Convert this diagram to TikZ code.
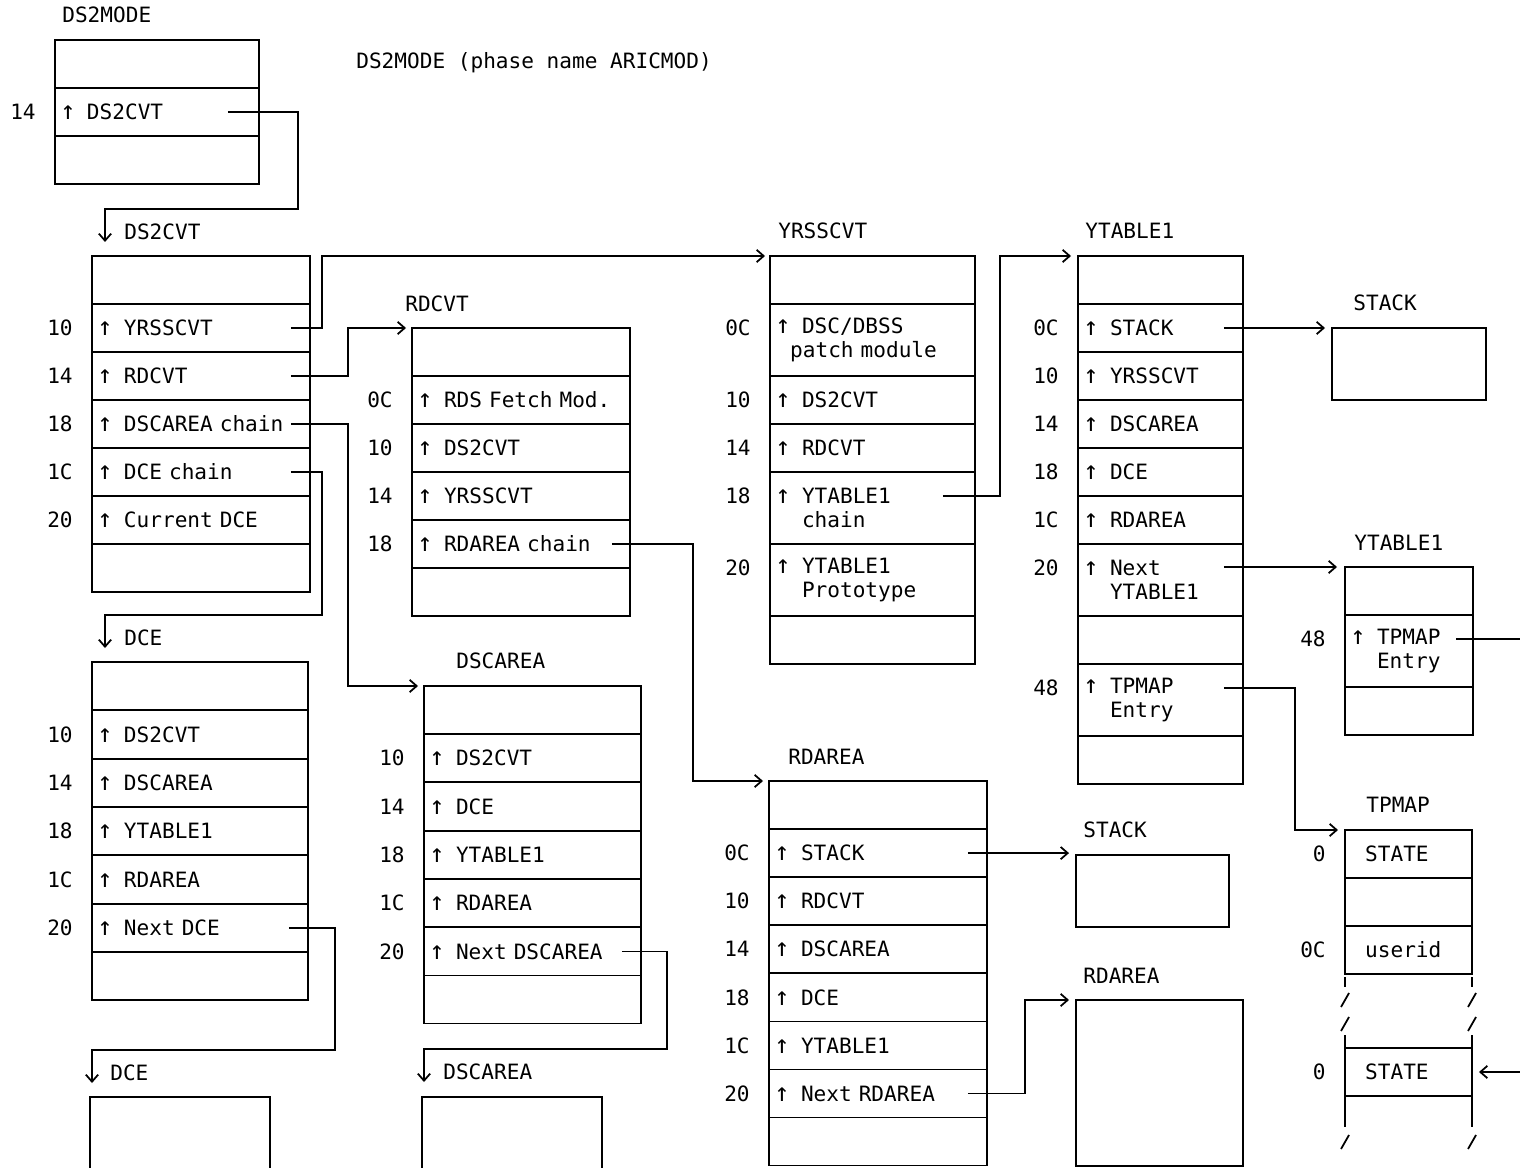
\documentclass[tikz,border=0pt]{standalone}
\usepackage{fontspec}
\newfontfamily\boxfont{DejaVu Sans Mono}
\usetikzlibrary{positioning,arrows.meta}
\newcommand{\tfont}{\boxfont\fontsize{12}{13.66}\selectfont}
\newcommand{\ptr}{\makebox[0.49cm][l]{\makebox[0.22cm]{\fontsize{14.5}{13.66}\selectfont↑}}}
\tikzset{
	cell/.style={draw,line width=1pt,outer sep=0pt,text width=#1,inner xsep=0.15cm,inner ysep=0pt,
		minimum height=0.96cm,align=left,font=\tfont},
	tall/.style={minimum height=1.44cm},
	bare/.style={draw,line width=1pt,outer sep=0pt,inner sep=0pt,anchor=north west},
	ofs/.style={font=\tfont,inner sep=0pt},
	title/.style={font=\tfont,inner sep=0pt,anchor=west},
	wire/.style={line width=1pt},
	link/.style={wire,-{Straight Barb[length=4pt,width=7pt]}},
}
\begin{document}
\begin{tikzpicture}[x=0.02cm,y=-0.02cm,label distance=0.38cm]
\useasboundingbox (0,0) rectangle (1520,1168);

% DS2MODE
\node[title] (t-mode) at (62,15) {DS2MODE};
\node[title] (caption) at (356,63) {DS2MODE (phase name ARICMOD)};
\node[cell=3.78cm,anchor=north west] (mode0) at (55,40) {};
\node[cell=3.78cm,below=0pt of mode0,label={[ofs]left:14}] (mode1) {\ptr DS2CVT};
\node[cell=3.78cm,below=0pt of mode1] (mode2) {};

% DS2CVT
\node[title] (t-cvt) at (124,232) {DS2CVT};
\node[cell=4.06cm,anchor=north west] (cvt0) at (92,256) {};
\foreach \off/\txt [count=\i] in {10/YRSSCVT,14/RDCVT,18/DSCAREA chain,1C/DCE chain,20/Current DCE}
	\node[cell=4.06cm,anchor=north west,label={[ofs]left:\off}] (cvt\i) at (92,{256+48*\i}) {\mbox{\ptr \txt}};
\node[cell=4.06cm,below=0pt of cvt5] (cvt6) {};

% DCE
\node[title] (t-dce) at (124,638) {DCE};
\node[cell=4.02cm,anchor=north west] (dce0) at (92,662) {};
\foreach \off/\txt [count=\i] in {10/DS2CVT,14/DSCAREA,18/YTABLE1,1C/RDAREA,20/Next DCE}
	\node[cell=4.02cm,anchor=north west,label={[ofs]left:\off}] (dce\i) at (92,{662+48.4*\i}) {\mbox{\ptr \txt}};
\node[cell=4.02cm,below=0pt of dce5] (dce6) {};
\node[title] (t-dce2) at (110,1073) {DCE};
\node[bare,minimum width=3.6cm,minimum height=2cm] (dce2) at (90,1097) {};

% RDCVT
\node[title] (t-rdcvt) at (405,304) {RDCVT};
\node[cell=4.06cm,anchor=north west] (rdcvt0) at (412,328) {};
\foreach \off/\txt [count=\i] in {0C/RDS Fetch Mod.,10/DS2CVT,14/YRSSCVT,18/RDAREA chain}
	\node[cell=4.06cm,anchor=north west,label={[ofs]left:\off}] (rdcvt\i) at (412,{328+48*\i}) {\mbox{\ptr \txt}};
\node[cell=4.06cm,below=0pt of rdcvt4] (rdcvt5) {};

% DSCAREA
\node[title] (t-dsc) at (456,661) {DSCAREA};
\node[cell=4.04cm,anchor=north west] (dsc0) at (424,686) {};
\foreach \off/\txt [count=\i] in {10/DS2CVT,14/DCE,18/YTABLE1,1C/RDAREA,20/Next DSCAREA}
	\node[cell=4.04cm,anchor=north west,label={[ofs]left:\off}] (dsc\i) at (424,{686+48.3*\i}) {\mbox{\ptr \txt}};
\node[cell=4.04cm,below=0pt of dsc5] (dsc6) {};
\node[title] (t-dsc2) at (443,1072) {DSCAREA};
\node[bare,minimum width=3.6cm,minimum height=2cm] (dsc2) at (422,1097) {};

% YRSSCVT
\node[title] (t-yrss) at (778,231) {YRSSCVT};
\node[cell=3.8cm,anchor=north west] (yrss0) at (770,256) {};
\node[cell=3.8cm,tall,below=0pt of yrss0,label={[ofs,yshift=0.24cm]left:0C}] (yrss1) {\ptr DSC/DBSS\\\hphantom{↑}patch module};
\node[cell=3.8cm,below=0pt of yrss1,label={[ofs]left:10}] (yrss2) {\ptr DS2CVT};
\node[cell=3.8cm,below=0pt of yrss2,label={[ofs]left:14}] (yrss3) {\ptr RDCVT};
\node[cell=3.8cm,tall,below=0pt of yrss3,label={[ofs,yshift=0.24cm]left:18}] (yrss4) {\ptr YTABLE1\\\hphantom{\ptr}chain};
\node[cell=3.8cm,tall,below=0pt of yrss4,label={[ofs,yshift=0.24cm]left:20}] (yrss5) {\ptr YTABLE1\\\hphantom{\ptr}Prototype};
\node[cell=3.8cm,below=0pt of yrss5] (yrss6) {};

% YTABLE1
\node[title] (t-yt) at (1085,231) {YTABLE1};
\node[cell=3.0cm,anchor=north west] (yt0) at (1078,256) {};
\foreach \off/\txt [count=\i] in {0C/STACK,10/YRSSCVT,14/DSCAREA,18/DCE,1C/RDAREA}
	\node[cell=3.0cm,anchor=north west,label={[ofs]left:\off}] (yt\i) at (1078,{256+48*\i}) {\mbox{\ptr \txt}};
\node[cell=3.0cm,tall,below=0pt of yt5,label={[ofs,yshift=0.24cm]left:20}] (yt6) {\ptr Next\\\hphantom{\ptr}YTABLE1};
\node[cell=3.0cm,below=0pt of yt6] (yt7) {};
\node[cell=3.0cm,tall,below=0pt of yt7,label={[ofs,yshift=0.24cm]left:48}] (yt8) {\ptr TPMAP\\\hphantom{\ptr}Entry};
\node[cell=3.0cm,below=0pt of yt8] (yt9) {};

\node[title] (t-stack) at (1353,303) {STACK};
\node[bare,minimum width=3.08cm,minimum height=1.44cm] (stack1) at (1332,328) {};

\node[title] (t-ytb) at (1354,543) {YTABLE1};
\node[cell=2.26cm,anchor=north west] (ytb0) at (1345,567) {};
\node[cell=2.26cm,tall,below=0pt of ytb0,label={[ofs,yshift=0.24cm]left:48}] (ytb1) {\ptr TPMAP\\\hphantom{\ptr}Entry};
\node[cell=2.26cm,below=0pt of ytb1] (ytb2) {};

% TPMAP
\node[title] (t-tp) at (1366,805) {TPMAP};
\node[cell=2.24cm,anchor=north west,label={[ofs]left:0}] (tp0) at (1345,830) {\hphantom{↑}STATE};
\node[cell=2.24cm,below=0pt of tp0] (tp1) {};
\node[cell=2.24cm,below=0pt of tp1,label={[ofs]left:0C}] (tp2) {\hphantom{↑}userid};
\node[cell=2.24cm,anchor=north west,label={[ofs]left:0}] (tp3) at (1345,1048) {\hphantom{↑}STATE};
\foreach \x in {1345,1472}{
	\draw[wire] (\x,977) -- (\x,987);
	\draw[wire] (\x,1035) -- (\x,1048);
	\draw[wire] (\x,1097) -- (\x,1127);
	\foreach \y in {1000,1024,1142}
		\draw[wire] ({\x-4},{\y+7}) -- ({\x+4},{\y-7});
}

% RDAREA
\node[title] (t-rda) at (788,757) {RDAREA};
\node[cell=4.06cm,anchor=north west] (rda0) at (769,781) {};
\foreach \off/\txt [count=\i] in {0C/STACK,10/RDCVT,14/DSCAREA,18/DCE,1C/YTABLE1,20/Next RDAREA}
	\node[cell=4.06cm,anchor=north west,label={[ofs]left:\off}] (rda\i) at (769,{781+48.1*\i}) {\mbox{\ptr \txt}};
\node[cell=4.06cm,below=0pt of rda6] (rda7) {};

\node[title] (t-stack2) at (1083,830) {STACK};
\node[bare,minimum width=3.06cm,minimum height=1.44cm] (stack2) at (1076,855) {};
\node[title] (t-rda2) at (1083,976) {RDAREA};
\node[bare,minimum width=3.34cm,minimum height=3.32cm] (rdarea2) at (1076,1000) {};

% connectors
\coordinate (cvt-in) at (105,242);
\coordinate (dce-in) at (105,648);
\coordinate (dce2-in) at (92,1083);
\coordinate (dsc2-in) at (424,1082);
\coordinate (tp-from) at (1520,1072);
\draw[link] ([xshift=-0.62cm]mode1.east) -| (298,209) -| (cvt-in);
\draw[link] ([xshift=-0.38cm]cvt1.east) -| (322,256) -- ([xshift=-0.1cm]yrss0.north west);
\draw[link] ([xshift=-0.38cm]cvt2.east) -| (348,328) -- ([xshift=-0.12cm]rdcvt0.north west);
\draw[link] ([xshift=-0.38cm]cvt3.east) -| (348,686) -- ([xshift=-0.12cm]dsc0.north west);
\draw[link] ([xshift=-0.38cm]cvt4.east) -| (322,615) -| (dce-in);
\draw[link] ([xshift=-0.38cm]dce5.east) -| (335,1050) -| (dce2-in);
\draw[link] ([xshift=-0.36cm]rdcvt4.east) -| (693,781) -- ([xshift=-0.12cm]rda0.north west);
\draw[link] ([xshift=-0.38cm]dsc5.east) -| (667,1049) -| (dsc2-in);
\draw[link] ([xshift=-0.64cm,yshift=0.24cm]yrss4.east) -| (1000,256) -- ([xshift=-0.14cm]yt0.north west);
\draw[link] ([xshift=-0.38cm]yt1.east) -- ([xshift=-0.14cm]yt1.east -| stack1.west);
\draw[link] ([xshift=-0.38cm]yt6.east |- ytb0.north west) -- ([xshift=-0.16cm]ytb0.north west);
\draw[link] ([xshift=-0.38cm,yshift=0.24cm]yt8.east) -| (1295,830) -- ([xshift=-0.14cm]tp0.north west);
\draw[wire] ([xshift=-0.34cm,yshift=0.24cm]ytb1.east) -- ++(80,0);
\draw[link] (tp-from) -- ([xshift=0.14cm]tp3.east);
\draw[link] ([xshift=-0.38cm]rda1.east) -- ([xshift=-0.14cm]rda1.east -| stack2.west);
\draw[link] ([xshift=-0.38cm]rda6.east) -| (1025,1000) -- ([xshift=-0.14cm]rdarea2.north west);
\end{tikzpicture}
\end{document}
